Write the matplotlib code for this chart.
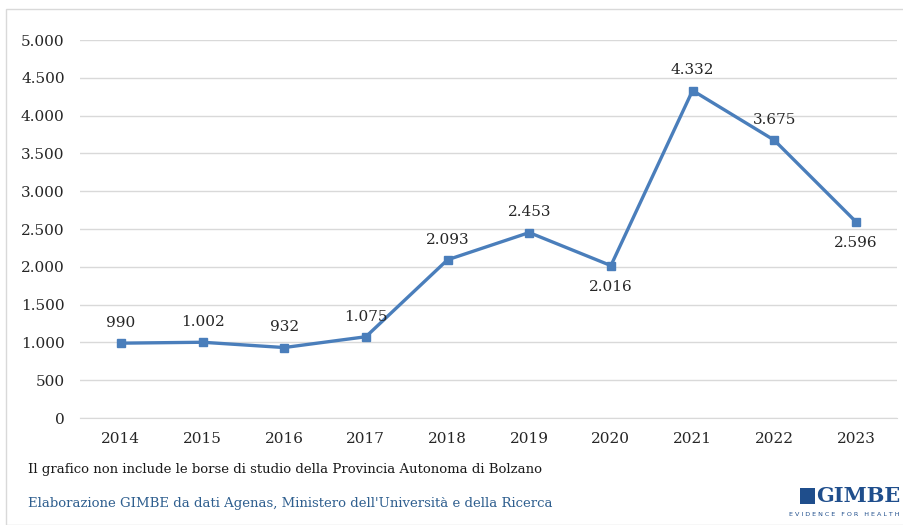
import matplotlib.pyplot as plt
from matplotlib.patches import Rectangle

plt.rcParams['font.family'] = ['DejaVu Serif']

years = ['2014', '2015', '2016', '2017', '2018', '2019', '2020', '2021', '2022', '2023']
values = [990, 1002, 932, 1075, 2093, 2453, 2016, 4332, 3675, 2596]
labels = ['990', '1.002', '932', '1.075', '2.093', '2.453', '2.016', '4.332', '3.675', '2.596']
below = [False, False, False, False, False, False, True, False, False, True]
yticks = list(range(0, 5001, 500))

blue = '#4a7ebb'

fig = plt.figure(figsize=(9.04, 5.25), dpi=100)
ax = fig.add_axes([0.0885, 0.2038, 0.9035, 0.72])

# outer frame
fig.patches.append(Rectangle((6 / 904, 0), 1.0, 1 - 9 / 525, transform=fig.transFigure,
                             fill=False, edgecolor='#d9d9d9', linewidth=1.0))

x = list(range(len(years)))
ax.plot(x, values, color=blue, linewidth=2.4, marker='s', markersize=5.5, zorder=3)

for i, v in enumerate(values):
    off = -15.5 if below[i] else 14.5
    ax.annotate(labels[i], (i, v), textcoords='offset points', xytext=(0, off),
                ha='center', va='center', fontsize=11, color='#262626')

ax.set_xlim(-0.5, len(years) - 0.5)
ax.set_ylim(0, 5000)
ax.set_yticks(yticks)
ax.set_yticklabels([f'{t:,}'.replace(',', '.') for t in yticks])
ax.set_xticks(x)
ax.set_xticklabels(years)
ax.tick_params(length=0, labelsize=11, colors='#262626')
ax.tick_params(axis='y', pad=11)
ax.tick_params(axis='x', pad=10)
ax.grid(axis='y', color='#d9d9d9', linewidth=1.0)
ax.set_axisbelow(True)
for s in ax.spines.values():
    s.set_visible(False)
ax.spines['bottom'].set_visible(True)
ax.spines['bottom'].set_color('#d9d9d9')

fig.text(28 / 904, 1 - 469 / 525, 'Il grafico non include le borse di studio della Provincia Autonoma di Bolzano',
         fontsize=9.5, color='#1a1a1a', va='center', ha='left')
fig.text(28 / 904, 1 - 503 / 525, "Elaborazione GIMBE da dati Agenas, Ministero dell'Università e della Ricerca",
         fontsize=9.5, color='#2f5f8f', va='center', ha='left')

# logo
fig.text(900 / 904, 1 - 496 / 525, 'GIMBE', fontsize=15, color='#1f4e8c', ha='right', va='center',
         fontweight='bold')
fig.text(900 / 904, 1 - 514 / 525, 'E V I D E N C E   F O R   H E A L T H', fontsize=4.6, color='#1f4e8c',
         ha='right', va='center', family='DejaVu Sans')
fig.patches.append(Rectangle((800 / 904, 1 - 504 / 525), 15 / 904, 16 / 525, transform=fig.transFigure,
                             facecolor='#1f4e8c', edgecolor='none'))

fig.savefig('out.png', dpi=100)
